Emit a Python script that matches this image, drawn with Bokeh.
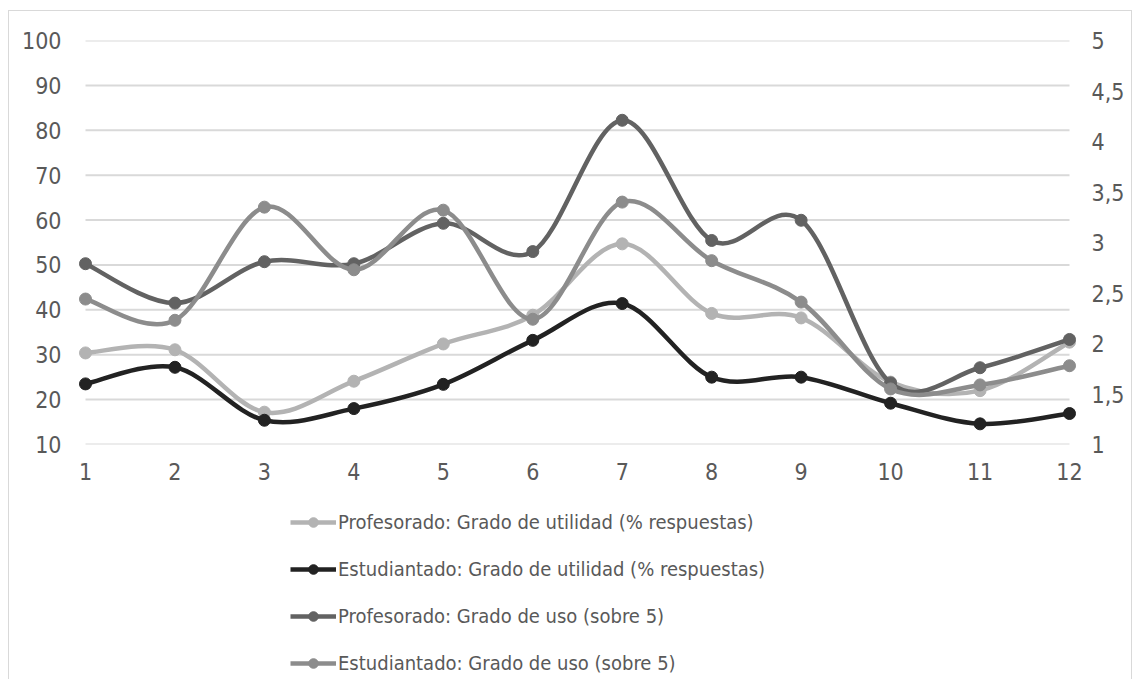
import numpy as np
from bokeh.plotting import figure
from bokeh.layouts import column
from bokeh.models import (Range1d, LinearAxis, FixedTicker, CustomJSTickFormatter,
                          Legend, LegendItem, ColumnDataSource)
from bokeh.embed import file_html
from bokeh.resources import INLINE

# ---------------- data ----------------
categories = [1, 2, 3, 4, 5, 6, 7, 8, 9, 10, 11, 12]
prof_utilidad = [30.4, 31.1, 17.2, 24.1, 32.4, 38.8, 54.7, 39.2, 38.2, 23.9, 22.0, 32.8]
est_utilidad = [23.5, 27.2, 15.4, 18.0, 23.4, 33.2, 41.4, 25.0, 25.0, 19.2, 14.6, 16.9]
prof_uso = [2.79, 2.40, 2.81, 2.79, 3.19, 2.91, 4.21, 3.02, 3.22, 1.61, 1.76, 2.04]
est_uso = [2.44, 2.23, 3.35, 2.73, 3.32, 2.24, 3.40, 2.82, 2.41, 1.55, 1.59, 1.78]
left_ticks = [10, 20, 30, 40, 50, 60, 70, 80, 90, 100]
right_ticks = [1, 1.5, 2, 2.5, 3, 3.5, 4, 4.5, 5]
labels = ["Profesorado: Grado de utilidad (% respuestas)",
          "Estudiantado: Grado de utilidad (% respuestas)",
          "Profesorado: Grado de uso (sobre 5)",
          "Estudiantado: Grado de uso (sobre 5)"]

FONT = "'Liberation Sans Narrow', 'DejaVu Sans Condensed', sans-serif"
TXT = "#595959"
GRID = "#d9d9d9"
W = 1122

# ---------------- main figure ----------------
pad_px = 14
step_px = 984 / 11
pad = pad_px / step_px
p = figure(frame_width=1012, frame_height=404,
           x_range=Range1d(categories[0] - pad, categories[-1] + pad),
           y_range=Range1d(left_ticks[0], left_ticks[-1]),
           output_backend="svg", toolbar_location=None,
           min_border_left=62, min_border_right=48, min_border_top=29,
           min_border_bottom=50)
p.extra_y_ranges = {"y2": Range1d(right_ticks[0], right_ticks[-1])}
p.outline_line_color = None
p.background_fill_color = "white"
p.border_fill_color = "white"
p.xgrid.visible = False
p.ygrid.visible = False

# grid lines spanning categories 1..12
p.segment(x0=[categories[0]] * len(left_ticks), x1=[categories[-1]] * len(left_ticks),
          y0=left_ticks, y1=left_ticks, line_color=GRID, line_width=2)

def style_axis(ax, standoff):
    ax.axis_line_color = None
    ax.major_tick_line_color = None
    ax.minor_tick_line_color = None
    ax.major_tick_out = 0
    ax.major_tick_in = 0
    ax.major_label_standoff = standoff
    ax.major_label_text_font = FONT
    ax.major_label_text_font_size = "23px"
    ax.major_label_text_color = TXT

p.xaxis.ticker = FixedTicker(ticks=categories)
style_axis(p.xaxis[0], 18)
p.yaxis.ticker = FixedTicker(ticks=left_ticks)
style_axis(p.yaxis[0], 10)

ax2 = LinearAxis(y_range_name="y2", ticker=FixedTicker(ticks=right_ticks),
                 formatter=CustomJSTickFormatter(code="return tick.toString().replace('.', ',')"))
style_axis(ax2, 8)
p.add_layout(ax2, "right")

# ---------------- smooth curves (Catmull-Rom -> cubic Bezier) ----------------
def bezier_ctrl(xs, ys):
    x = np.asarray(xs, float)
    y = np.asarray(ys, float)
    xp = np.concatenate([[x[0]], x, [x[-1]]])
    yp = np.concatenate([[y[0]], y, [y[-1]]])
    n = len(x)
    d = dict(x0=[], y0=[], x1=[], y1=[], cx0=[], cy0=[], cx1=[], cy1=[])
    for i in range(n - 1):
        p0x, p0y = xp[i + 1], yp[i + 1]
        p1x, p1y = xp[i + 2], yp[i + 2]
        d["x0"].append(p0x); d["y0"].append(p0y)
        d["x1"].append(p1x); d["y1"].append(p1y)
        d["cx0"].append(p0x + (p1x - xp[i]) / 6)
        d["cy0"].append(p0y + (p1y - yp[i]) / 6)
        d["cx1"].append(p1x - (xp[i + 3] - p0x) / 6)
        d["cy1"].append(p1y - (yp[i + 3] - p0y) / 6)
    return ColumnDataSource(d)

series = [
    (prof_utilidad, "#b3b3b3", "default"),
    (est_utilidad, "#222222", "default"),
    (prof_uso, "#626262", "y2"),
    (est_uso, "#8c8c8c", "y2"),
]

for vals, col, rng in series:
    src = bezier_ctrl(categories, vals)
    p.bezier(x0="x0", y0="y0", x1="x1", y1="y1", cx0="cx0", cy0="cy0",
             cx1="cx1", cy1="cy1", source=src, line_color=col, line_width=4.5,
             y_range_name=rng)
    p.scatter(categories, vals, size=12, fill_color=col, line_color=col,
              y_range_name=rng)

# ---------------- legend panel (renderers lie outside its visible range) ----------------
LH = 185
p2 = figure(width=W, height=LH, x_range=Range1d(-2, -1), y_range=Range1d(-2, -1),
            output_backend="svg", toolbar_location=None, min_border=0,
            x_axis_location=None, y_axis_location=None)
p2.grid.visible = False
p2.outline_line_color = None
p2.background_fill_color = "white"
p2.border_fill_color = "white"

items = []
for (vals, col, rng), lab in zip(series, labels):
    l = p2.line(categories, vals, line_color=col, line_width=4.5)
    s = p2.scatter(categories, vals, size=12, fill_color=col, line_color=col)
    items.append(LegendItem(label=lab, renderers=[l, s]))

# the column aligns p2's frame with p's frame (62 px left border)
legend = Legend(items=items, location=(281 - 62, 4), orientation="vertical",
                glyph_width=46, glyph_height=24, label_height=24, spacing=23,
                label_standoff=2, padding=0, margin=0,
                border_line_color=None, background_fill_alpha=0,
                label_text_font=FONT, label_text_font_size="20px",
                label_text_color=TXT)
p2.add_layout(legend, "center")

lay = column(p, p2, spacing=0)
lay.styles = {"margin-left": "8px", "margin-top": "10px",
              "border-left": "1px solid #d9d9d9", "border-top": "1px solid #d9d9d9",
              "border-right": "1px solid #d9d9d9"}

open("out.html", "w").write(file_html(lay, INLINE))
